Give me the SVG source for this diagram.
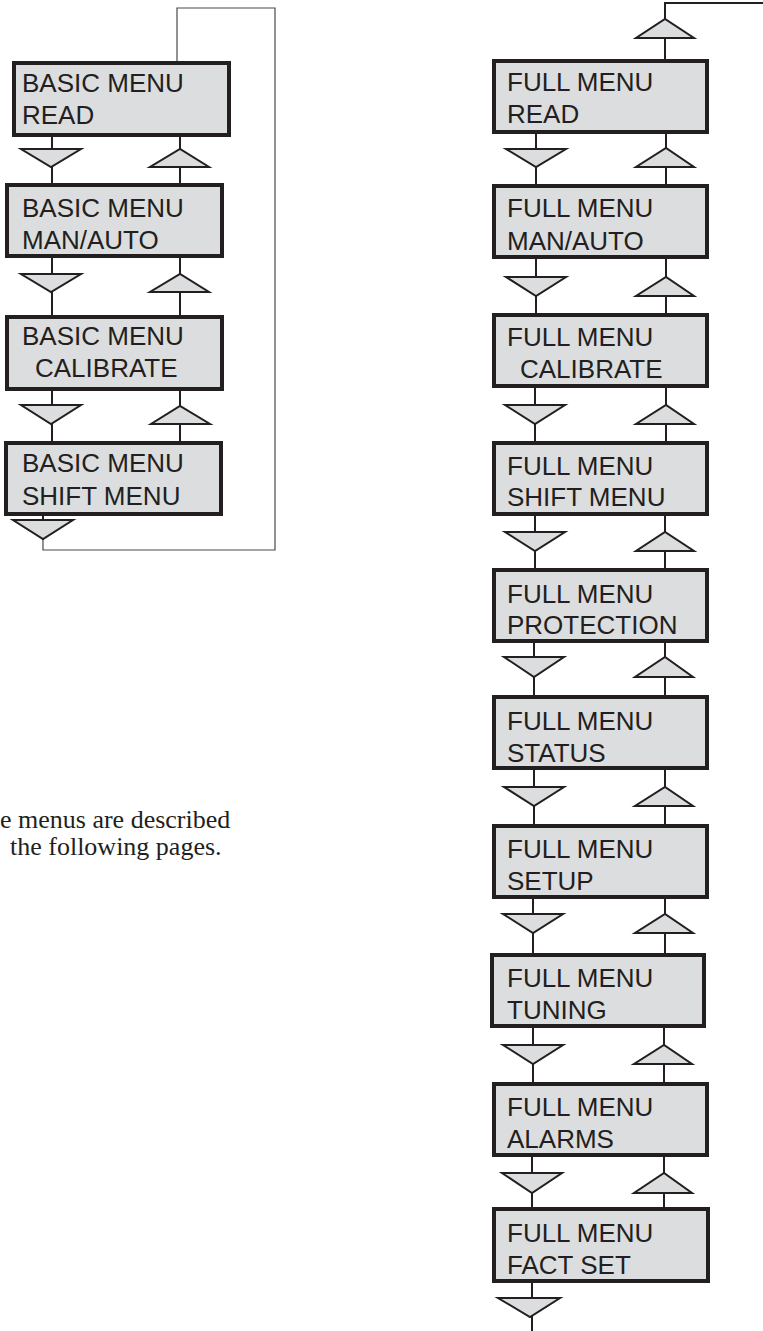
<svg xmlns="http://www.w3.org/2000/svg" width="763" height="1331" viewBox="0 0 763 1331">
<style>
.box{fill:#dcddde;stroke:#231f20;stroke-width:4}
.t{font-family:"Liberation Sans",Arial,sans-serif;font-size:26px;fill:#231f20}
.ln{stroke:#231f20;stroke-width:2;fill:none}
.thin{stroke:#4a4a4a;stroke-width:1.2;fill:none}
.tri{fill:#dcddde;stroke:#231f20;stroke-width:2;stroke-linejoin:miter}
.note{font-family:"Liberation Serif","Times New Roman",serif;font-size:26px;fill:#231f20}
</style>
<rect width="763" height="1331" fill="#ffffff"/>
<g id="connectors">
<!-- left column -->
<polyline class="thin" points="43,539 43,550 275,550 275,8 177,8 177,61"/>
<line class="ln" x1="52" y1="137" x2="52" y2="183"/><line class="ln" x1="180" y1="137" x2="180" y2="183"/>
<line class="ln" x1="52" y1="258" x2="52" y2="315"/><line class="ln" x1="180" y1="258" x2="180" y2="315"/>
<line class="ln" x1="52" y1="391" x2="52" y2="441"/><line class="ln" x1="180" y1="391" x2="180" y2="441"/>
<line class="ln" x1="43" y1="516" x2="43" y2="540"/>
<polygon class="tri" points="21,149 81,149 51,167"/><polygon class="tri" points="150,167 209,167 180,149"/>
<polygon class="tri" points="21,274 81,274 51,292"/><polygon class="tri" points="150,292 209,292 180,274"/>
<polygon class="tri" points="21,405 81,405 51,424"/><polygon class="tri" points="151,424 210,424 180,406"/>
<polygon class="tri" points="13,520 73,520 43,539"/>
<!-- right column -->
<polyline class="ln" points="665,59 665,3 763,3"/>
<polygon class="tri" points="636,38 694,38 665,19"/>
<line class="ln" x1="536" y1="134" x2="536" y2="184"/><line class="ln" x1="666" y1="134" x2="666" y2="184"/>
<line class="ln" x1="536" y1="259" x2="536" y2="313"/><line class="ln" x1="666" y1="259" x2="666" y2="313"/>
<line class="ln" x1="535" y1="388" x2="535" y2="441"/><line class="ln" x1="666" y1="388" x2="666" y2="441"/>
<line class="ln" x1="535" y1="516" x2="535" y2="568"/><line class="ln" x1="665" y1="516" x2="665" y2="568"/>
<line class="ln" x1="534" y1="643" x2="534" y2="695"/><line class="ln" x1="665" y1="643" x2="665" y2="695"/>
<line class="ln" x1="534" y1="770" x2="534" y2="824"/><line class="ln" x1="665" y1="770" x2="665" y2="824"/>
<line class="ln" x1="533" y1="899" x2="533" y2="953"/><line class="ln" x1="665" y1="899" x2="665" y2="953"/>
<line class="ln" x1="533" y1="1028" x2="533" y2="1082"/><line class="ln" x1="664" y1="1028" x2="664" y2="1082"/>
<line class="ln" x1="532" y1="1157" x2="532" y2="1207"/><line class="ln" x1="664" y1="1157" x2="664" y2="1207"/>
<line class="ln" x1="532" y1="1282" x2="532" y2="1331"/>
<polygon class="tri" points="506,149 566,149 536,167"/><polygon class="tri" points="636,167 694,167 666,148"/>
<polygon class="tri" points="506,277 566,277 536,296"/><polygon class="tri" points="636,296 694,296 666,277"/>
<polygon class="tri" points="505,405 565,405 535,424"/><polygon class="tri" points="636,424 694,424 666,405"/>
<polygon class="tri" points="505,532 565,532 535,551"/><polygon class="tri" points="636,551 694,551 665,532"/>
<polygon class="tri" points="504,657 564,657 534,677"/><polygon class="tri" points="635,677 693,677 665,657"/>
<polygon class="tri" points="504,787 564,787 534,806"/><polygon class="tri" points="635,806 693,806 665,787"/>
<polygon class="tri" points="503,914 563,914 533,933"/><polygon class="tri" points="635,933 693,933 665,914"/>
<polygon class="tri" points="503,1045 563,1045 533,1064"/><polygon class="tri" points="634,1064 692,1064 664,1045"/>
<polygon class="tri" points="502,1173 562,1173 532,1193"/><polygon class="tri" points="634,1193 692,1193 664,1173"/>
<polygon class="tri" points="498,1298 560,1298 530,1317"/>
</g>
<g id="basic-read"><rect class="box" x="14" y="63" width="215" height="72"/><text class="t" x="22" y="92">BASIC MENU</text><text class="t" x="22" y="124">READ</text></g>
<g id="basic-manauto"><rect class="box" x="7" y="185" width="215" height="71"/><text class="t" x="22" y="217">BASIC MENU</text><text class="t" x="22" y="249">MAN/AUTO</text></g>
<g id="basic-calibrate"><rect class="box" x="7" y="317" width="215" height="72"/><text class="t" x="22" y="345">BASIC MENU</text><text class="t" x="35" y="377">CALIBRATE</text></g>
<g id="basic-shift"><rect class="box" x="6" y="443" width="215" height="71"/><text class="t" x="22" y="472">BASIC MENU</text><text class="t" x="22" y="505">SHIFT MENU</text></g>
<g id="full-read"><rect class="box" x="494" y="61" width="213" height="71"/><text class="t" x="507" y="91">FULL MENU</text><text class="t" x="507" y="123">READ</text></g>
<g id="full-manauto"><rect class="box" x="494" y="186" width="213" height="71"/><text class="t" x="507" y="217">FULL MENU</text><text class="t" x="507" y="250">MAN/AUTO</text></g>
<g id="full-calibrate"><rect class="box" x="494" y="315" width="213" height="71"/><text class="t" x="507" y="346">FULL MENU</text><text class="t" x="520" y="378">CALIBRATE</text></g>
<g id="full-shift"><rect class="box" x="494" y="443" width="213" height="71"/><text class="t" x="507" y="475">FULL MENU</text><text class="t" x="507" y="506">SHIFT MENU</text></g>
<g id="full-protection"><rect class="box" x="494" y="570" width="213" height="71"/><text class="t" x="507" y="603">FULL MENU</text><text class="t" x="507" y="634">PROTECTION</text></g>
<g id="full-status"><rect class="box" x="494" y="697" width="213" height="71"/><text class="t" x="507" y="730">FULL MENU</text><text class="t" x="507" y="762">STATUS</text></g>
<g id="full-setup"><rect class="box" x="494" y="826" width="213" height="71"/><text class="t" x="507" y="858">FULL MENU</text><text class="t" x="507" y="890">SETUP</text></g>
<g id="full-tuning"><rect class="box" x="492" y="955" width="212" height="71"/><text class="t" x="507" y="987">FULL MENU</text><text class="t" x="507" y="1019">TUNING</text></g>
<g id="full-alarms"><rect class="box" x="494" y="1084" width="213" height="71"/><text class="t" x="507" y="1116">FULL MENU</text><text class="t" x="507" y="1148">ALARMS</text></g>
<g id="full-factset"><rect class="box" x="494" y="1209" width="214" height="72"/><text class="t" x="507" y="1242">FULL MENU</text><text class="t" x="507" y="1274">FACT SET</text></g>
<g id="note"><text class="note" x="0" y="828">e menus are described</text><text class="note" x="10" y="855">the following pages.</text></g>
</svg>
